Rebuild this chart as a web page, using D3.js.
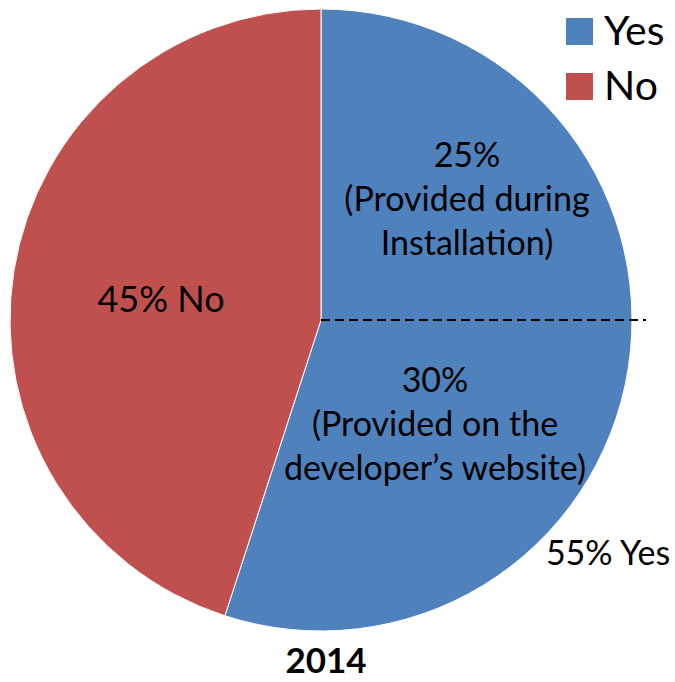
<!DOCTYPE html>
<html>
<head>
<meta charset="utf-8">
<script src="https://cdn.jsdelivr.net/npm/d3@7"></script>
<style>
  body { margin: 0; background: #ffffff; }
  text { font-family: Lato, "Open Sans", sans-serif; }
</style>
</head>
<body>
<svg id="chart"></svg>
<script>
// data
var categories = ["Yes", "No"];
var values = [55, 45];
var colors = ["#4f81bd", "#c0504d"];
// sub split of Yes
var yes_parts = [25, 30];
var yes_part_labels = [
    ["25%", "(Provided during", "Installation)"],
    ["30%", "(Provided on the", "developer\u2019s website)"]
];
var slice_labels = ["55% Yes", "45% No"];
var title = "2014";

// layout
var width = 675, height = 682;
var cx = 321, cy = 320, radius = 311;
var font_size = 34;
var line_h = 44;

var svg = d3.select("#chart").attr("width", width).attr("height", height);

var pie = d3.pie().sort(null).value(d => d);
var arcs = pie(values);
var arc = d3.arc().innerRadius(0).outerRadius(radius);

var g = svg.append("g").attr("transform", `translate(${cx},${cy})`);

g.selectAll("path.slice").data(arcs).enter().append("path")
    .attr("class", "slice")
    .attr("d", arc)
    .style("fill", (d, i) => colors[i])
    .style("stroke", "#ffffff")
    .style("stroke-width", 1);

// dashed split line inside Yes
var total = d3.sum(values);
var split_angle = yes_parts[0] / total * 2 * Math.PI;
var line_len = radius + 14;
g.append("line")
    .attr("x1", 0).attr("y1", 0)
    .attr("x2", line_len * Math.sin(split_angle))
    .attr("y2", -line_len * Math.cos(split_angle))
    .style("stroke", "#000000")
    .style("stroke-width", 2)
    .style("stroke-dasharray", "9,5");

// sub labels
var sub_pos = [[146, -153], [114, 72]];
yes_part_labels.forEach(function (lines, i) {
    var t = g.append("text").attr("text-anchor", "middle")
        .style("font-size", font_size + "px").style("fill", "#000");
    lines.forEach(function (s, j) {
        t.append("tspan").attr("x", sub_pos[i][0]).attr("y", sub_pos[i][1] + j * line_h).text(s);
    });
});

// slice labels
g.append("text").attr("x", 287).attr("y", 245).attr("text-anchor", "middle")
    .style("font-size", font_size + "px").text(slice_labels[0]);
g.append("text").attr("x", -160).attr("y", -8).attr("text-anchor", "middle")
    .style("font-size", "36px").text(slice_labels[1]);

// title
svg.append("text").attr("x", 326).attr("y", 673).attr("text-anchor", "middle")
    .style("font-size", "35px").style("font-weight", "bold").text(title);

// legend
var leg = svg.append("g").attr("transform", "translate(566,18)");
var legItem = leg.selectAll("g").data(categories).enter().append("g")
    .attr("transform", (d, i) => `translate(0,${i * 55})`);
legItem.append("rect").attr("width", 27).attr("height", 27).style("fill", (d, i) => colors[i]);
legItem.append("text").attr("x", 38).attr("y", 27).style("font-size", "41px").text(d => d);
</script>
</body>
</html>
